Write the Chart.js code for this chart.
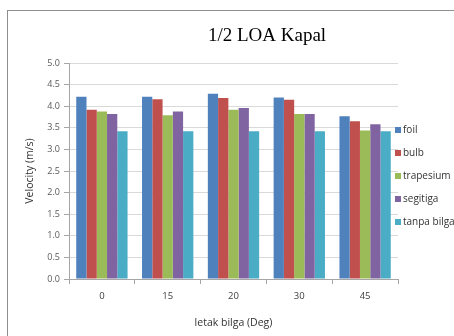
<!DOCTYPE html>
<html>
<head>
<meta charset="utf-8">
<script src="https://cdn.jsdelivr.net/npm/chart.js@4/dist/chart.umd.min.js"></script>
<style>
    body { margin: 0; background: #ffffff; }
    #frame {
        position: absolute;
        left: 7px;
        top: 10px;
        width: 460px;
        height: 340px;
        border: 1px solid #8e8e8e;
    }
    #wrap {
        position: absolute;
        left: 0;
        top: 0;
        width: 454px;
        height: 336px;
    }
</style>
</head>
<body>
<div id="frame"></div>
<div id="wrap"><canvas id="barChart" width="454" height="336"></canvas></div>

<script>
// ===========================
// Data
// ===========================

const chartTitle = "1/2 LOA Kapal";

const positions = ["0", "15", "20", "30", "45"];

const foil = [4.22, 4.22, 4.29, 4.20, 3.77];
const bulb = [3.92, 4.16, 4.19, 4.15, 3.65];
const trapesium = [3.88, 3.79, 3.92, 3.82, 3.44];
const segitiga = [3.82, 3.88, 3.96, 3.82, 3.58];
const tanpaBilga = [3.42, 3.42, 3.42, 3.42, 3.42];

const seriesNames = ["foil", "bulb", "trapesium", "segitiga", "tanpa bilga"];
const seriesColors = ["#4F81BD", "#C0504D", "#9BBB59", "#8064A2", "#4BACC6"];

const yTicks = [0, 0.5, 1, 1.5, 2, 2.5, 3, 3.5, 4, 4.5, 5];

const textFont = "'Open Sans', 'Liberation Sans', sans-serif";

// ===========================
// Title + legend (Excel style)
// ===========================

const sheetDecor = {
    id: "sheetDecor",
    afterDraw(chart) {
        const ctx = chart.ctx;
        ctx.save();

        ctx.fillStyle = "#000000";
        ctx.font = "19px 'Liberation Serif', 'DejaVu Serif', serif";
        ctx.textAlign = "center";
        ctx.textBaseline = "middle";
        ctx.fillText(chartTitle, 267, 36);

        ctx.font = "10px " + textFont;
        ctx.textAlign = "left";
        chart.data.datasets.forEach((ds, i) => {
            const y = 130 + i * 23;
            ctx.fillStyle = ds.backgroundColor;
            ctx.fillRect(395, y - 3, 6, 6);
            ctx.fillStyle = "#333333";
            ctx.fillText(ds.label, 403, y);
        });

        ctx.restore();
    }
};

// ===========================
// Bar Chart
// ===========================

const seriesValues = [foil, bulb, trapesium, segitiga, tanpaBilga];

new Chart(document.getElementById("barChart"), {

    type: "bar",

    data: {
        labels: positions,
        datasets: seriesNames.map((name, i) => ({
            label: name,
            data: seriesValues[i],
            backgroundColor: seriesColors[i],
            borderWidth: 0,
            categoryPercentage: 0.78,
            barPercentage: 1.0
        }))
    },

    options: {
        responsive: false,
        animation: false,
        layout: {
            padding: { top: 63, right: 56, left: 0, bottom: 0 }
        },
        plugins: {
            legend: { display: false },
            title: { display: false },
            tooltip: { enabled: false }
        },
        scales: {
            x: {
                afterFit(scale) { scale.height = 57; },
                grid: {
                    drawOnChartArea: false,
                    tickLength: 5,
                    tickColor: "#a6a6a6"
                },
                border: { color: "#a6a6a6" },
                ticks: {
                    color: "#404040",
                    padding: 7,
                    font: { family: textFont, size: 9.5 }
                },
                title: {
                    display: true,
                    text: "letak bilga (Deg)",
                    color: "#333333",
                    padding: { top: 6, bottom: 7 },
                    font: { family: textFont, size: 10.5 }
                }
            },
            y: {
                min: 0,
                max: 5,
                afterFit(scale) { scale.width = 69; },
                afterBuildTicks(scale) {
                    scale.ticks = yTicks.map(v => ({ value: v }));
                },
                grid: {
                    color: "#d9d9d9",
                    tickLength: 5,
                    tickColor: "#a6a6a6"
                },
                border: { color: "#a6a6a6" },
                ticks: {
                    color: "#595959",
                    padding: 4,
                    font: { family: textFont, size: 9 },
                    callback: v => v.toFixed(1)
                },
                title: {
                    display: true,
                    text: "Velocity (m/s)",
                    color: "#333333",
                    padding: { top: 24, bottom: 0 },
                    font: { family: textFont, size: 10.5 }
                }
            }
        }
    },

    plugins: [sheetDecor]

});
</script>
</body>
</html>
